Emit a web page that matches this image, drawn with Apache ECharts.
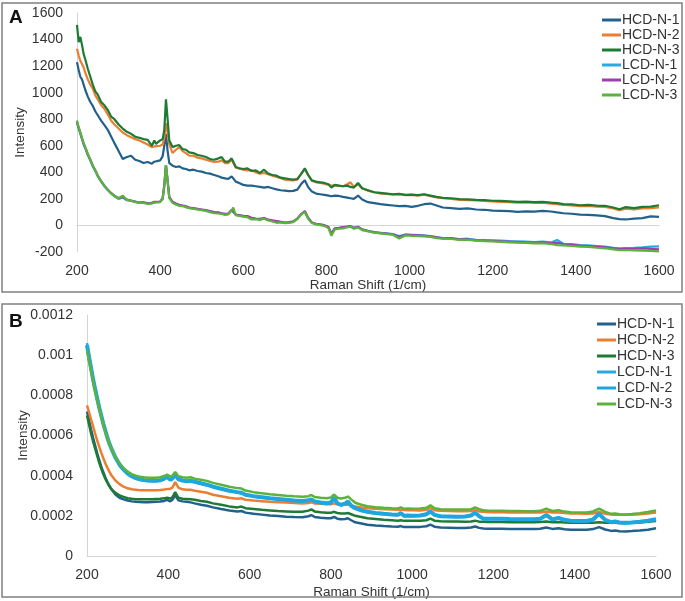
<!DOCTYPE html>
<html><head><meta charset="utf-8">
<script src="https://cdn.jsdelivr.net/npm/echarts@6/dist/echarts.min.js"></script>
<style>html,body{margin:0;padding:0;background:#fff}#c{width:685px;height:601px}</style>
</head><body><div id="c"></div>
<script>
// ---------- Panel A (x shared by all series) ----------
const XA = [
 200,204,208,212,216,220,226,232,238,244,
 250,258,266,274,282,290,300,310,320,330,
 340,350,360,370,380,386,390,400,406,410,
 414,418,422,430,438,446,454,462,470,480,
 490,500,510,520,530,540,548,556,564,572,
 576,582,590,600,610,620,630,640,650,660,
 670,680,690,700,710,720,730,740,748,756,
 765,775,785,795,805,812,820,830,840,850,
 858,866,876,886,900,915,930,945,960,975,
 990,1005,1020,1035,1050,1065,1080,1100,1120,1140,
 1160,1180,1200,1220,1240,1260,1280,1300,1320,1340,
 1355,1370,1390,1410,1430,1450,1470,1490,1505,1520,
 1540,1560,1580,1600];
const A_HCD1 = [
 1230,1170,1120,1100,1060,1020,970,930,900,860,
 830,790,755,720,670,620,560,500,515,525,
 495,485,470,478,465,480,470,490,520,600,
 690,560,470,450,440,445,430,425,415,420,
 410,405,395,390,380,370,360,355,350,370,
 380,330,320,305,300,300,295,290,285,290,
 280,272,265,262,258,260,270,315,340,290,
 255,240,235,230,225,220,225,222,215,210,
 205,200,225,195,175,168,160,155,150,145,
 148,140,148,160,165,150,135,130,125,128,
 120,118,112,110,108,102,106,104,110,105,
 98,92,88,82,80,76,70,55,48,45,
 52,55,68,65];
const A_HCD2 = [
 1330,1280,1240,1215,1190,1150,1100,1060,1030,980,
 950,905,880,835,790,760,730,700,680,665,
 650,640,625,610,590,595,590,600,610,660,
 770,700,610,545,570,590,560,545,525,525,
 510,505,495,485,478,480,490,470,470,495,
 510,435,430,420,415,415,400,390,395,385,
 375,365,355,345,342,340,345,395,425,380,
 335,325,320,315,305,300,302,298,295,310,
 325,290,310,278,262,250,240,238,232,235,
 228,230,225,232,220,212,205,200,192,190,
 188,185,182,178,176,172,174,170,172,165,
 160,155,150,145,148,142,140,128,115,126,
 120,128,130,136];
const A_HCD3 = [
 1510,1380,1420,1360,1290,1250,1180,1120,1060,1010,
 985,930,905,870,820,800,760,730,705,690,
 668,660,650,645,600,640,615,640,650,720,
 950,800,640,590,600,605,575,570,550,545,
 530,525,515,500,495,505,515,480,480,505,
 520,440,430,425,430,410,415,395,420,390,
 380,375,360,355,350,345,350,390,430,380,
 340,330,325,320,310,285,305,300,295,300,
 290,285,320,280,265,250,245,240,235,238,
 230,232,228,235,225,215,208,205,198,196,
 192,190,186,185,182,178,180,176,178,172,
 168,160,158,152,155,150,148,135,122,138,
 130,140,142,152];
const A_LCD1 = [
 770,730,690,650,610,580,530,490,445,410,
 370,330,295,265,240,220,200,210,190,185,
 178,170,172,165,168,175,170,178,200,300,
 450,330,210,175,160,150,148,140,132,128,
 122,118,112,105,98,95,90,85,88,115,
 130,80,75,70,68,55,50,48,52,42,
 35,30,25,20,22,28,50,85,105,55,
 20,10,5,0,-15,-60,-25,-20,-15,-10,
 -5,-20,-12,-30,-40,-50,-55,-60,-65,-80,
 -68,-70,-72,-75,-80,-88,-95,-95,-102,-100,
 -108,-110,-112,-115,-118,-120,-122,-125,-122,-128,
 -110,-138,-140,-148,-150,-155,-160,-168,-172,-170,
 -168,-165,-160,-158];
const A_LCD2 = [
 780,735,700,655,615,585,535,495,450,415,
 375,335,300,270,245,225,205,215,195,188,
 180,172,175,168,170,178,172,180,205,305,
 455,335,215,178,165,155,150,145,135,130,
 125,120,115,108,100,98,92,88,90,118,
 132,82,78,72,70,58,52,50,55,45,
 38,32,28,22,25,30,52,88,108,58,
 22,12,8,2,-12,-65,-22,-18,-12,-8,
 -5,-18,-10,-32,-42,-52,-58,-62,-68,-85,
 -70,-72,-75,-78,-82,-90,-98,-98,-105,-104,
 -112,-115,-116,-120,-122,-125,-128,-130,-128,-134,
 -130,-142,-146,-152,-155,-160,-165,-172,-178,-176,
 -175,-172,-176,-180];
const A_LCD3 = [
 790,740,700,660,620,590,540,495,450,415,
 372,332,298,268,242,222,205,225,192,186,
 178,170,170,163,165,172,168,176,198,295,
 455,335,205,170,158,148,146,138,130,125,
 120,115,110,100,92,90,86,80,84,112,
 135,78,72,66,62,45,48,42,50,38,
 30,20,22,18,20,25,48,85,100,50,
 18,8,2,-3,-20,-78,-30,-25,-22,-14,
 -10,-25,-15,-35,-45,-55,-60,-65,-70,-98,
 -75,-78,-80,-82,-86,-95,-100,-102,-108,-108,
 -115,-118,-120,-124,-127,-130,-132,-135,-134,-140,
 -148,-150,-155,-160,-162,-168,-172,-180,-186,-185,
 -188,-190,-192,-196];

// ---------- Panel B (x shared by all series) ----------
const XB = [
 200,205,210,215,220,225,230,235,240,245,250,255,260,
 270,280,290,300,310,320,330,340,350,360,370,380,390,
 397,405,410,417,425,435,445,455,465,
 480,495,510,530,550,570,580,590,
 610,630,650,670,690,710,730,
 745,752,760,775,790,800,808,816,825,835,842,850,860,875,890,
 910,930,950,965,972,980,990,1000,
 1020,1035,1045,1055,1070,1090,1110,1130,1145,1155,1165,1175,1185,1200,
 1220,1240,1260,1280,1300,1315,1330,1345,1360,1375,1390,1410,1430,1445,1460,1475,1490,1500,1510,1525,1540,1560,1580,1600];
const B_HCD1 = [
 7.2e-4,6.75e-4,6.3e-4,5.88e-4,5.5e-4,5.12e-4,4.78e-4,4.46e-4,4.18e-4,3.92e-4,3.7e-4,3.5e-4,3.32e-4,
 3.06e-4,2.9e-4,2.82e-4,2.76e-4,2.72e-4,2.7e-4,2.69e-4,2.68e-4,2.68e-4,2.69e-4,2.7e-4,2.71e-4,2.74e-4,
 2.8e-4,2.72e-4,2.8e-4,3.02e-4,2.77e-4,2.72e-4,2.7e-4,2.67e-4,2.62e-4,
 2.55e-4,2.5e-4,2.42e-4,2.34e-4,2.27e-4,2.22e-4,2.24e-4,2.16e-4,
 2.1e-4,2.06e-4,2.02e-4,1.99e-4,1.96e-4,1.94e-4,1.93e-4,
 1.98e-4,2.04e-4,1.94e-4,1.9e-4,1.88e-4,1.88e-4,1.95e-4,1.86e-4,1.83e-4,1.84e-4,1.88e-4,1.78e-4,1.68e-4,1.62e-4,1.56e-4,
 1.52e-4,1.49e-4,1.47e-4,1.46e-4,1.49e-4,1.44e-4,1.45e-4,1.44e-4,
 1.45e-4,1.48e-4,1.56e-4,1.46e-4,1.42e-4,1.41e-4,1.4e-4,1.4e-4,1.42e-4,1.47e-4,1.4e-4,1.37e-4,1.36e-4,1.36e-4,
 1.36e-4,1.35e-4,1.35e-4,1.35e-4,1.35e-4,1.36e-4,1.42e-4,1.35e-4,1.38e-4,1.33e-4,1.31e-4,1.31e-4,1.31e-4,1.34e-4,1.44e-4,1.32e-4,1.25e-4,1.27e-4,1.23e-4,1.22e-4,1.24e-4,1.27e-4,1.31e-4,1.38e-4];
const B_HCD2 = [
 7.5e-4,7.15e-4,6.8e-4,6.45e-4,6.1e-4,5.75e-4,5.45e-4,5.15e-4,4.88e-4,4.62e-4,4.4e-4,4.2e-4,4.02e-4,
 3.76e-4,3.58e-4,3.45e-4,3.37e-4,3.32e-4,3.3e-4,3.28e-4,3.27e-4,3.27e-4,3.27e-4,3.28e-4,3.29e-4,3.31e-4,
 3.33e-4,3.35e-4,3.4e-4,3.68e-4,3.4e-4,3.32e-4,3.3e-4,3.3e-4,3.25e-4,
 3.2e-4,3.15e-4,3.05e-4,2.98e-4,2.9e-4,2.85e-4,2.87e-4,2.8e-4,
 2.76e-4,2.73e-4,2.7e-4,2.68e-4,2.66e-4,2.64e-4,2.62e-4,
 2.64e-4,2.68e-4,2.62e-4,2.6e-4,2.58e-4,2.58e-4,2.62e-4,2.58e-4,2.56e-4,2.55e-4,2.56e-4,2.52e-4,2.46e-4,2.42e-4,2.38e-4,
 2.35e-4,2.33e-4,2.31e-4,2.3e-4,2.32e-4,2.29e-4,2.28e-4,2.28e-4,
 2.27e-4,2.3e-4,2.38e-4,2.28e-4,2.25e-4,2.24e-4,2.23e-4,2.23e-4,2.24e-4,2.3e-4,2.22e-4,2.2e-4,2.19e-4,2.18e-4,
 2.18e-4,2.17e-4,2.17e-4,2.16e-4,2.16e-4,2.17e-4,2.22e-4,2.16e-4,2.17e-4,2.14e-4,2.12e-4,2.11e-4,2.1e-4,2.12e-4,2.2e-4,2.1e-4,2.06e-4,2.07e-4,2.05e-4,2.05e-4,2.06e-4,2.08e-4,2.11e-4,2.16e-4];
const B_HCD3 = [
 7.0e-4,6.55e-4,6.1e-4,5.7e-4,5.35e-4,5.0e-4,4.65e-4,4.35e-4,4.08e-4,3.85e-4,3.65e-4,3.47e-4,3.33e-4,
 3.14e-4,3.02e-4,2.94e-4,2.88e-4,2.85e-4,2.83e-4,2.82e-4,2.82e-4,2.82e-4,2.83e-4,2.84e-4,2.85e-4,2.87e-4,
 2.9e-4,2.86e-4,2.92e-4,3.18e-4,2.9e-4,2.85e-4,2.84e-4,2.83e-4,2.8e-4,
 2.74e-4,2.7e-4,2.62e-4,2.55e-4,2.47e-4,2.42e-4,2.46e-4,2.38e-4,
 2.34e-4,2.3e-4,2.27e-4,2.24e-4,2.22e-4,2.2e-4,2.2e-4,
 2.26e-4,2.32e-4,2.22e-4,2.18e-4,2.15e-4,2.15e-4,2.2e-4,2.14e-4,2.12e-4,2.12e-4,2.14e-4,2.08e-4,2.0e-4,1.94e-4,1.88e-4,
 1.84e-4,1.8e-4,1.78e-4,1.76e-4,1.78e-4,1.75e-4,1.75e-4,1.75e-4,
 1.75e-4,1.78e-4,1.86e-4,1.76e-4,1.73e-4,1.72e-4,1.72e-4,1.71e-4,1.72e-4,1.76e-4,1.71e-4,1.7e-4,1.69e-4,1.69e-4,
 1.69e-4,1.68e-4,1.68e-4,1.68e-4,1.68e-4,1.69e-4,1.72e-4,1.68e-4,1.69e-4,1.67e-4,1.66e-4,1.66e-4,1.66e-4,1.66e-4,1.68e-4,1.66e-4,1.65e-4,1.66e-4,1.64e-4,1.64e-4,1.65e-4,1.67e-4,1.7e-4,1.74e-4];
const B_LCD1 = [
 10.6e-4,10.0e-4,9.42e-4,8.86e-4,8.35e-4,7.9e-4,7.44e-4,7.03e-4,6.63e-4,6.27e-4,5.92e-4,5.62e-4,5.36e-4,
 4.9e-4,4.54e-4,4.28e-4,4.08e-4,3.95e-4,3.86e-4,3.8e-4,3.76e-4,3.74e-4,3.73e-4,3.73e-4,3.75e-4,3.82e-4,
 3.92e-4,3.78e-4,3.83e-4,4.02e-4,3.8e-4,3.74e-4,3.7e-4,3.73e-4,3.68e-4,
 3.6e-4,3.53e-4,3.43e-4,3.33e-4,3.23e-4,3.16e-4,3.13e-4,3.03e-4,
 2.96e-4,2.91e-4,2.86e-4,2.82e-4,2.78e-4,2.74e-4,2.72e-4,
 2.76e-4,2.8e-4,2.7e-4,2.64e-4,2.61e-4,2.64e-4,2.88e-4,2.6e-4,2.53e-4,2.58e-4,2.68e-4,2.48e-4,2.36e-4,2.25e-4,2.18e-4,
 2.12e-4,2.08e-4,2.05e-4,2.03e-4,2.11e-4,1.98e-4,2.0e-4,1.98e-4,
 2.0e-4,2.05e-4,2.18e-4,2.03e-4,1.96e-4,1.95e-4,1.94e-4,1.95e-4,2.0e-4,2.12e-4,1.96e-4,1.84e-4,1.83e-4,1.84e-4,
 1.84e-4,1.82e-4,1.81e-4,1.81e-4,1.81e-4,1.83e-4,2.01e-4,1.8e-4,1.87e-4,1.78e-4,1.74e-4,1.72e-4,1.72e-4,1.8e-4,2.05e-4,1.78e-4,1.66e-4,1.7e-4,1.65e-4,1.63e-4,1.65e-4,1.69e-4,1.74e-4,1.8e-4];
const B_LCD2 = [
 10.5e-4,9.9e-4,9.35e-4,8.8e-4,8.3e-4,7.85e-4,7.4e-4,7.0e-4,6.6e-4,6.25e-4,5.9e-4,5.6e-4,5.35e-4,
 4.9e-4,4.55e-4,4.3e-4,4.1e-4,3.97e-4,3.88e-4,3.82e-4,3.78e-4,3.76e-4,3.75e-4,3.75e-4,3.77e-4,3.85e-4,
 3.95e-4,3.8e-4,3.85e-4,4.05e-4,3.82e-4,3.76e-4,3.72e-4,3.75e-4,3.7e-4,
 3.62e-4,3.55e-4,3.45e-4,3.35e-4,3.25e-4,3.18e-4,3.15e-4,3.05e-4,
 2.98e-4,2.93e-4,2.88e-4,2.84e-4,2.8e-4,2.76e-4,2.74e-4,
 2.78e-4,2.82e-4,2.72e-4,2.66e-4,2.63e-4,2.66e-4,2.92e-4,2.62e-4,2.55e-4,2.6e-4,2.72e-4,2.5e-4,2.38e-4,2.27e-4,2.2e-4,
 2.14e-4,2.1e-4,2.07e-4,2.05e-4,2.14e-4,2.0e-4,2.02e-4,2.0e-4,
 2.02e-4,2.08e-4,2.22e-4,2.05e-4,1.98e-4,1.97e-4,1.96e-4,1.97e-4,2.02e-4,2.16e-4,1.98e-4,1.86e-4,1.85e-4,1.86e-4,
 1.86e-4,1.84e-4,1.83e-4,1.83e-4,1.83e-4,1.85e-4,2.05e-4,1.82e-4,1.9e-4,1.8e-4,1.76e-4,1.74e-4,1.74e-4,1.82e-4,2.1e-4,1.8e-4,1.68e-4,1.72e-4,1.67e-4,1.65e-4,1.67e-4,1.71e-4,1.76e-4,1.83e-4];
const B_LCD3 = [
 10.25e-4,9.7e-4,9.2e-4,8.7e-4,8.2e-4,7.75e-4,7.35e-4,6.95e-4,6.55e-4,6.2e-4,5.9e-4,5.6e-4,5.35e-4,
 4.95e-4,4.62e-4,4.38e-4,4.2e-4,4.08e-4,4.0e-4,3.95e-4,3.92e-4,3.9e-4,3.9e-4,3.9e-4,3.92e-4,3.98e-4,
 4.05e-4,3.95e-4,4.0e-4,4.18e-4,3.97e-4,3.92e-4,3.9e-4,3.92e-4,3.85e-4,
 3.8e-4,3.74e-4,3.64e-4,3.55e-4,3.45e-4,3.38e-4,3.36e-4,3.26e-4,
 3.18e-4,3.13e-4,3.08e-4,3.04e-4,3.0e-4,2.97e-4,2.95e-4,
 2.98e-4,3.04e-4,2.94e-4,2.9e-4,2.88e-4,2.92e-4,3.06e-4,2.9e-4,2.86e-4,2.9e-4,2.96e-4,2.82e-4,2.65e-4,2.55e-4,2.48e-4,
 2.43e-4,2.4e-4,2.38e-4,2.37e-4,2.42e-4,2.35e-4,2.36e-4,2.35e-4,
 2.36e-4,2.4e-4,2.52e-4,2.38e-4,2.33e-4,2.32e-4,2.31e-4,2.31e-4,2.33e-4,2.42e-4,2.33e-4,2.28e-4,2.26e-4,2.25e-4,
 2.25e-4,2.24e-4,2.24e-4,2.23e-4,2.23e-4,2.25e-4,2.36e-4,2.24e-4,2.28e-4,2.21e-4,2.18e-4,2.17e-4,2.17e-4,2.22e-4,2.36e-4,2.2e-4,2.1e-4,2.12e-4,2.08e-4,2.07e-4,2.09e-4,2.13e-4,2.19e-4,2.27e-4];

const NAMES = ['HCD-N-1','HCD-N-2','HCD-N-3','LCD-N-1','LCD-N-2','LCD-N-3'];
const COLORS_A = ['#22618c','#ed7d31','#1e7b34','#2aa8e0','#9c3fae','#5cb33c'];
const COLORS_B = ['#22618c','#ed7d31','#1e7b34','#2aa8e0','#1ea6df','#5cb33c'];
const WIDTH_B = [2.5,2.5,2.5,2.5,4,2.5];

const seriesA = [A_HCD1,A_HCD2,A_HCD3,A_LCD1,A_LCD2,A_LCD3];
const seriesB = [B_HCD1,B_HCD2,B_HCD3,B_LCD1,B_LCD2,B_LCD3];
const pairs = (xs, ys) => xs.map((x, i) => [x, ys[i]]);

const FONT = 'Liberation Sans';
const TXT = '#333333';
const AX = '#d4d4d4';
const plain = v => String(v);

const series = [];
seriesA.forEach((ys, i) => series.push({
  name: NAMES[i], type: 'line', xAxisIndex: 0, yAxisIndex: 0,
  symbol: 'none', data: pairs(XA, ys),
  lineStyle: {width: 2.2, color: COLORS_A[i]}, itemStyle: {color: COLORS_A[i]}
}));
seriesB.forEach((ys, i) => series.push({
  name: NAMES[i], type: 'line', xAxisIndex: 1, yAxisIndex: 1,
  symbol: 'none', data: pairs(XB, ys),
  lineStyle: {width: WIDTH_B[i], color: COLORS_B[i]}, itemStyle: {color: COLORS_B[i]}
}));

const xBase = (grid, gap, showLine) => ({
  type: 'value', gridIndex: grid, min: 200, max: 1600, interval: 200, position: 'bottom',
  name: 'Raman Shift (1/cm)', nameLocation: 'middle', nameGap: gap, nameMoveOverlap: false,
  nameTextStyle: {fontSize: 13.5, color: TXT, fontFamily: FONT},
  axisLine: {show: showLine, onZero: false, lineStyle: {color: AX, width: 1}},
  axisTick: {show: false}, splitLine: {show: false},
  axisLabel: {fontSize: 14, color: TXT, fontFamily: FONT, margin: 12, formatter: plain}
});

const legendFor = (colors, left, top, gap) => ({
  orient: 'vertical', left: left, top: top, icon: 'rect',
  itemWidth: 19, itemHeight: 3, itemGap: gap,
  textStyle: {fontSize: 14, color: TXT, fontFamily: FONT, lineHeight: 14, padding: [0,0,0,-4]},
  data: NAMES.map((n, i) => ({name: n, itemStyle: {color: colors[i]}}))
});

const option = {
  animation: false,
  backgroundColor: '#ffffff',
  textStyle: {fontFamily: FONT},
  grid: [
    {left: 77, right: 26, top: 13, height: 239},
    {left: 87, right: 29, top: 315, height: 241}
  ],
  xAxis: [
    xBase(0, 26, false),
    xBase(1, 29, true),
    {type: 'value', gridIndex: 0, min: 200, max: 1600, interval: 200, position: 'bottom',
     axisLine: {show: true, onZero: true, lineStyle: {color: AX, width: 1}},
     axisTick: {show: false}, axisLabel: {show: false}, splitLine: {show: false}}
  ],
  yAxis: [
    {type: 'value', gridIndex: 0, min: -200, max: 1600, interval: 200,
     name: 'Intensity', nameLocation: 'middle', nameGap: 50, nameMoveOverlap: false,
     nameTextStyle: {fontSize: 13.5, color: TXT, fontFamily: FONT},
     axisLine: {show: true, lineStyle: {color: AX, width: 1}}, axisTick: {show: false},
     splitLine: {show: false},
     axisLabel: {fontSize: 14, color: TXT, fontFamily: FONT, margin: 14, formatter: plain}},
    {type: 'value', gridIndex: 1, min: 0, max: 0.0012, interval: 0.0002,
     name: 'Intensity', nameLocation: 'middle', nameGap: 57, nameMoveOverlap: false,
     nameTextStyle: {fontSize: 13.5, color: TXT, fontFamily: FONT},
     axisLine: {show: true, lineStyle: {color: AX, width: 1}}, axisTick: {show: false},
     splitLine: {show: false},
     axisLabel: {fontSize: 14, color: TXT, fontFamily: FONT, margin: 14,
       formatter: v => v === 0 ? '0' : String(parseFloat(v.toFixed(4)))}}
  ],
  legend: [
    legendFor(COLORS_A, 597, 8, 1),
    legendFor(COLORS_B, 592, 312, 2)
  ],
  graphic: [
    {type: 'rect', shape: {x: 2, y: 3, width: 680, height: 289}, style: {fill: 'none', stroke: '#808080', lineWidth: 1.5}, z: 100},
    {type: 'rect', shape: {x: 2, y: 304, width: 680, height: 293}, style: {fill: 'none', stroke: '#808080', lineWidth: 1.5}, z: 100},
    {type: 'text', left: 9, top: 8, style: {text: 'A', fontSize: 19, fontWeight: 'bold', fill: '#111', fontFamily: FONT}, z: 100},
    {type: 'text', left: 9, top: 312, style: {text: 'B', fontSize: 19, fontWeight: 'bold', fill: '#111', fontFamily: FONT}, z: 100}
  ],
  series: series
};

const chart = echarts.init(document.getElementById('c'), null, {renderer: 'canvas'});
chart.setOption(option);
</script>
</body></html>
